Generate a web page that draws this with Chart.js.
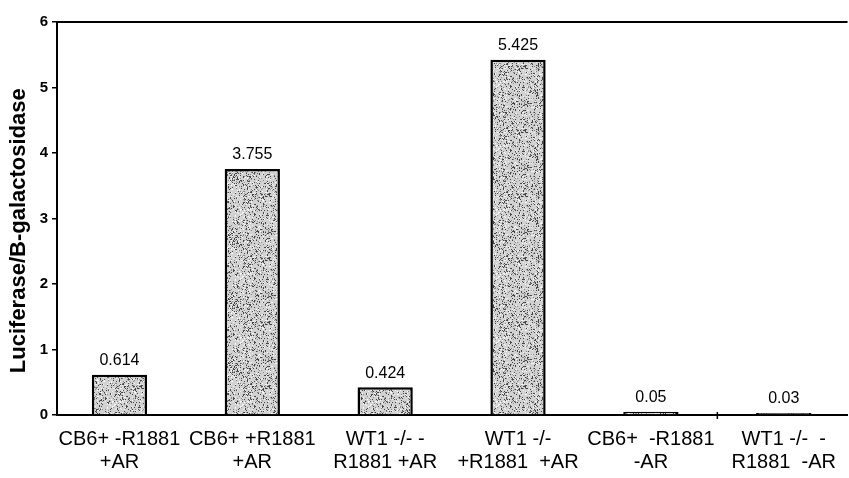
<!DOCTYPE html>
<html>
<head>
<meta charset="utf-8">
<script src="https://cdn.jsdelivr.net/npm/chart.js@4.4.0/dist/chart.umd.min.js"></script>
<style>
  html, body { margin: 0; padding: 0; background: #fff; overflow: hidden; }
  #wrap { width: 849px; height: 478px; }
</style>
</head>
<body>
<div id="wrap"><canvas id="barChart"></canvas></div>
<script>
// data
const categories = [
    ['CB6+ -R1881', '+AR'],
    ['CB6+ +R1881', '+AR'],
    ['WT1 -/- -', 'R1881 +AR'],
    ['WT1 -/-', '+R1881  +AR'],
    ['CB6+  -R1881', '-AR'],
    ['WT1 -/-  -', 'R1881  -AR']
];
const values = [0.614, 3.755, 0.424, 5.425, 0.05, 0.03];
const valueLabels = ['0.614', '3.755', '0.424', '5.425', '0.05', '0.03'];
const yTicks = [0, 1, 2, 3, 4, 5, 6];

// stippled grey fill like the scan
function makeStipple() {
    const c = document.createElement('canvas');
    c.width = 64; c.height = 64;
    const g = c.getContext('2d');
    g.fillStyle = '#d2d2d2';
    g.fillRect(0, 0, 64, 64);
    let seed = 7;
    const next = () => { seed = (seed * 16807) % 2147483647; return seed / 2147483647; };
    for (let i = 0; i < 1400; i++) {
        const x = Math.floor(next() * 64), y = Math.floor(next() * 64);
        const s = next();
        g.fillStyle = s < 0.45 ? '#444' : (s < 0.7 ? '#888' : '#f6f6f6');
        g.fillRect(x, y, 1, 1);
    }
    return g.createPattern(c, 'repeat');
}

const ctx = document.getElementById('barChart').getContext('2d');

// value labels above bars + top frame line
const extras = {
    id: 'extras',
    afterDatasetsDraw(chart) {
        const c = chart.ctx;
        const area = chart.chartArea;
        c.save();
        c.strokeStyle = '#000';
        c.lineWidth = 2;
        c.beginPath();
        c.moveTo(area.left - 1, area.top);
        c.lineTo(area.right, area.top);
        c.stroke();

        c.fillStyle = '#000';
        c.font = '16px "Liberation Sans", Arial, sans-serif';
        c.textAlign = 'center';
        c.textBaseline = 'bottom';
        chart.getDatasetMeta(0).data.forEach((bar, i) => {
            c.fillText(valueLabels[i], bar.x, bar.y - 6);
        });
        // tick mark between last two groups
        const xs = chart.scales.x;
        const bx = xs.getPixelForValue(4.5);
        c.lineWidth = 1.5;
        c.beginPath();
        c.moveTo(bx, area.bottom - 3);
        c.lineTo(bx, area.bottom + 4);
        c.stroke();
        c.restore();
    }
};

const chart = new Chart(ctx, {
    type: 'bar',
    data: {
        datasets: [{
            data: values.map((v, i) => ({x: i, y: v})),
            backgroundColor: makeStipple(),
            borderColor: '#000',
            borderWidth: 2.5,
            borderSkipped: 'bottom',
            barPercentage: 0.52,
            categoryPercentage: 0.8
        }]
    },
    options: {
        responsive: true,
        maintainAspectRatio: false,
        animation: false,
        layout: { padding: { top: 22, right: 0, left: 0, bottom: 0 } },
        plugins: { legend: { display: false }, tooltip: { enabled: false } },
        scales: {
            x: {
                type: 'linear',
                min: -0.47,
                max: 5.48,
                offset: false,
                afterBuildTicks: (scale) => {
                    scale.ticks = categories.map((c, i) => ({value: i}));
                },
                afterFit: (scale) => { scale.height = 63; },
                grid: { display: false, drawTicks: false },
                border: { color: '#000', width: 2 },
                ticks: {
                    color: '#000',
                    padding: 13,
                    maxRotation: 0,
                    autoSkip: false,
                    font: { family: '"Liberation Sans", Arial, sans-serif', size: 20, lineHeight: 1.15 },
                    callback: (v) => categories[v]
                }
            },
            y: {
                min: 0,
                max: 6,
                afterBuildTicks: (scale) => {
                    scale.ticks = yTicks.map(v => ({value: v}));
                },
                afterFit: (scale) => { scale.width = 57; },
                grid: { drawOnChartArea: false, drawTicks: true, tickLength: 5, color: '#000', lineWidth: 1.5 },
                border: { color: '#000', width: 2 },
                ticks: {
                    color: '#000',
                    padding: 4,
                    font: { family: '"Liberation Sans", Arial, sans-serif', size: 15, weight: 'bold' }
                },
                title: {
                    display: true,
                    text: 'Luciferase/B-galactosidase    ',
                    color: '#000',
                    padding: { top: 6, bottom: 0 },
                    font: { family: '"Liberation Sans", Arial, sans-serif', size: 22, weight: 'bold', lineHeight: 1.2 }
                }
            }
        }
    },
    plugins: [extras]
});
</script>
</body>
</html>
